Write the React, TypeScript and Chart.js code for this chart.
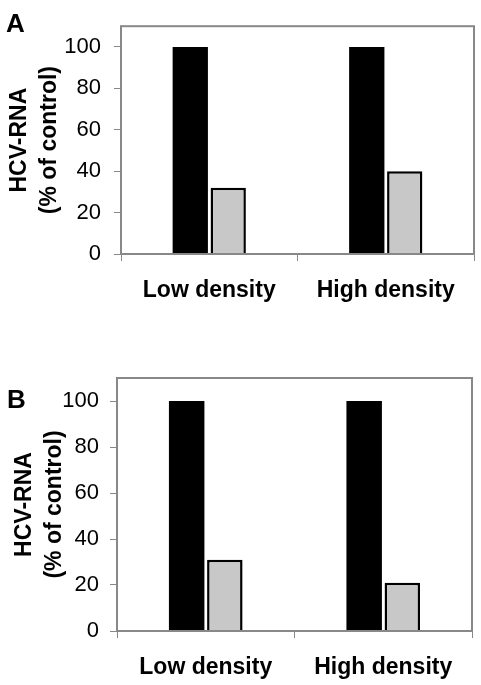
import React, { useEffect, useRef } from "react";
import { Chart, registerables } from "chart.js";

Chart.register(...registerables);

const categories = ["Low density", "High density"];
const panelAControl = [100, 100];
const panelATreated = [32, 40];
const panelBControl = [100, 100];
const panelBTreated = [31, 21];
const yTitleLines = ["HCV-RNA", "(% of control)"];
const yMin = 0;
const yMax = 110;
const yStep = 20;

const FONT = "'Liberation Sans', Arial, Helvetica, sans-serif";
const FRAME = "#888888";

type PanelProps = {
  letter: string;
  control: number[];
  treated: number[];
  top: number;
  height: number;
  padTop: number;
  padRight: number;
  yAxisWidth: number;
  xAxisHeight: number;
  titlePad: number;
  tickPad: number;
  letterX: number;
  letterY: number;
};

function Panel(p: PanelProps) {
  const ref = useRef<HTMLCanvasElement | null>(null);
  useEffect(() => {
    const canvas = ref.current;
    if (!canvas) return;
    const framePlugin = {
      id: "frame",
      afterDatasetsDraw(chart: any) {
        const { ctx, chartArea } = chart;
        ctx.save();
        ctx.strokeStyle = FRAME;
        ctx.lineWidth = 2;
        ctx.strokeRect(
          chartArea.left,
          chartArea.top,
          chartArea.right - chartArea.left,
          chartArea.bottom - chartArea.top
        );
        ctx.restore();
      },
      afterDraw(chart: any) {
        const { ctx } = chart;
        ctx.save();
        ctx.fillStyle = "#000";
        ctx.font = `bold 26px ${FONT}`;
        ctx.textAlign = "left";
        ctx.textBaseline = "alphabetic";
        ctx.fillText(p.letter, p.letterX, p.letterY);
        ctx.restore();
      },
    };
    const chart = new Chart(canvas, {
      type: "bar",
      data: {
        labels: categories,
        datasets: [
          {
            label: "Control",
            data: p.control,
            backgroundColor: "#000000",
            borderColor: "#000000",
            borderWidth: 0,
            categoryPercentage: 0.43,
            barPercentage: 0.93,
          },
          {
            label: "Treated",
            data: p.treated,
            backgroundColor: "#c8c8c8",
            borderColor: "#000000",
            borderWidth: 2.5,
            categoryPercentage: 0.43,
            barPercentage: 0.93,
          },
        ],
      },
      options: {
        responsive: false,
        animation: false,
        layout: {
          padding: { top: p.padTop, right: p.padRight, left: 0, bottom: 0 },
        },
        plugins: {
          legend: { display: false },
          tooltip: { enabled: false },
          title: { display: false },
        },
        scales: {
          x: {
            afterFit: (s: any) => {
              s.height = p.xAxisHeight;
            },
            border: { display: false },
            grid: {
              display: true,
              offset: true,
              drawOnChartArea: false,
              drawTicks: true,
              tickLength: 7,
              color: FRAME,
              lineWidth: 1,
            },
            ticks: {
              color: "#000",
              padding: 16,
              font: { family: FONT, size: 23, weight: "bold" },
              maxRotation: 0,
            },
          },
          y: {
            min: yMin,
            max: yMax,
            afterFit: (s: any) => {
              s.width = p.yAxisWidth;
            },
            border: { display: false },
            grid: {
              display: true,
              drawOnChartArea: false,
              drawTicks: true,
              tickLength: 7,
              color: FRAME,
              lineWidth: 1,
            },
            ticks: {
              stepSize: yStep,
              includeBounds: false,
              color: "#000",
              padding: p.tickPad,
              font: { family: FONT, size: 22 },
            },
            title: {
              display: true,
              text: yTitleLines,
              color: "#000",
              padding: { top: p.titlePad, bottom: 0 },
              font: { family: FONT, size: 23, weight: "bold", lineHeight: "30px" },
            },
          },
        },
      },
      plugins: [framePlugin],
    } as any);
    return () => chart.destroy();
  }, []);
  return (
    <div style={{ position: "absolute", left: 0, top: p.top, width: 481, height: p.height }}>
      <canvas ref={ref} width={481} height={p.height} style={{ display: "block" }} />
    </div>
  );
}

export default function App() {
  return (
    <div
      style={{
        position: "absolute",
        left: 0,
        top: 0,
        width: 481,
        height: 685,
        background: "#ffffff",
        overflow: "hidden",
      }}
    >
      <Panel
        letter="A"
        control={panelAControl}
        treated={panelATreated}
        top={0}
        height={320}
        padTop={6}
        padRight={7}
        yAxisWidth={121}
        xAxisHeight={66}
        titlePad={5}
        tickPad={13}
        letterX={6}
        letterY={32}
      />
      <Panel
        letter="B"
        control={panelBControl}
        treated={panelBTreated}
        top={340}
        height={345}
        padTop={38}
        padRight={9}
        yAxisWidth={117}
        xAxisHeight={54}
        titlePad={10}
        tickPad={11}
        letterX={7}
        letterY={67.5}
      />
    </div>
  );
}
